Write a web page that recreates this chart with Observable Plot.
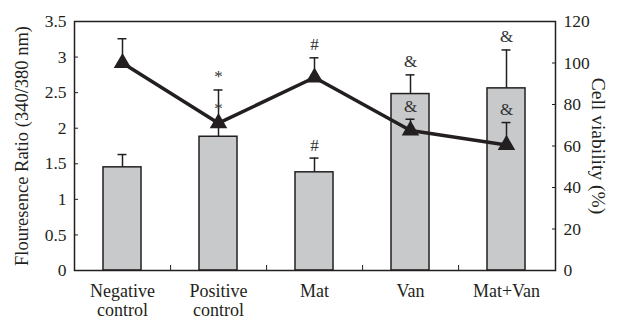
<!DOCTYPE html>
<html><head><meta charset="utf-8">
<script src="https://cdn.jsdelivr.net/npm/d3@7"></script>
<script src="https://cdn.jsdelivr.net/npm/@observablehq/plot@0.6"></script>
<style>body{margin:0;background:#fff}</style>
</head><body><div id="chart"></div>
<script>
const categories = ["Negative\ncontrol", "Positive\ncontrol", "Mat", "Van", "Mat+Van"];
const ratio = [1.45, 1.88, 1.38, 2.48, 2.56];
const ratioErr = [0.18, 0.22, 0.20, 0.27, 0.54];
const viability = [100, 71, 93, 67.5, 60.5];
const viabilityErr = [11.7, 16, 9.5, 5.4, 10.8];
const ratioMarks = ["", "*", "#", "&", "&"];
const viabilityMarks = ["", "*", "#", "&", "&"];
const leftTicks = [0, 0.5, 1, 1.5, 2, 2.5, 3, 3.5];
const rightTicks = [0, 20, 40, 60, 80, 100, 120];
const leftLabel = "Flouresence Ratio (340/380 nm)";
const rightLabel = "Cell viability (%)";

const k = 3.5 / 120;
const data = categories.map((c, i) => ({
  cat: c,
  ratio: ratio[i],
  ratioTop: ratio[i] + ratioErr[i],
  v: viability[i] * k,
  vTop: (viability[i] + viabilityErr[i]) * k,
  rm: ratioMarks[i],
  vm: viabilityMarks[i]
}));

const ink = "#231f20";
const font = "'Liberation Serif', 'Times New Roman', serif";
const chart = Plot.plot({
  width: 619,
  height: 320,
  marginLeft: 74,
  marginRight: 64,
  marginTop: 21,
  marginBottom: 50,
  style: {fontFamily: font, fontSize: "17px", color: ink, background: "#fff"},
  x: {domain: categories, paddingInner: 0.6, paddingOuter: 0.3, axis: null},
  y: {domain: [0, 3.5], axis: null},
  marks: [
    Plot.barY(data, {x: "cat", y: "ratio", fill: "#c8c9cb", stroke: ink, strokeWidth: 1.5}),
    Plot.ruleX(data, {x: "cat", y1: "ratio", y2: "ratioTop", stroke: ink, strokeWidth: 1.5}),
    Plot.tickY(data, {x: "cat", y: "ratioTop", stroke: ink, strokeWidth: 1.5, insetLeft: 14.5, insetRight: 14.5}),
    Plot.ruleX(data, {x: "cat", y1: "v", y2: "vTop", stroke: ink, strokeWidth: 1.5}),
    Plot.tickY(data, {x: "cat", y: "vTop", stroke: ink, strokeWidth: 1.5, insetLeft: 14.5, insetRight: 14.5}),
    Plot.line(data, {x: "cat", y: "v", stroke: ink, strokeWidth: 3.5}),
    Plot.dot(data, {x: "cat", y: "v", symbol: "triangle", fill: ink, r: 6.5}),
    Plot.text(data, {x: "cat", y: "ratioTop", text: "rm", dy: -13, fill: "#333", fontSize: 17, fontFamily: font}),
    Plot.text(data, {x: "cat", y: "vTop", text: "vm", dy: -13, fill: "#333", fontSize: 17, fontFamily: font}),
    Plot.frame({stroke: ink, strokeWidth: 1.5}),
    Plot.axisY(leftTicks, {anchor: "left", tickSize: -4, tickPadding: 12, label: null, tickFormat: d => String(d), stroke: ink, fill: ink, fontFamily: font, fontSize: 17.5}),
    Plot.axisY(rightTicks.map(t => t * k), {anchor: "right", tickSize: -4, tickPadding: 12, label: null, tickFormat: d => String(Math.round(d / k)), stroke: ink, fill: ink, fontFamily: font, fontSize: 17.5}),
    Plot.axisX(categories, {anchor: "bottom", tickSize: 0, tickPadding: 12, label: null, lineHeight: 1.1, fill: ink, fontFamily: font, fontSize: 18}),
    Plot.axisX(categories.slice(0, -1), {anchor: "bottom", tickSize: -5, text: null, label: null, dx: 48.1, stroke: ink}),
    Plot.text([leftLabel], {frameAnchor: "left", dx: -52, rotate: -90, textAnchor: "middle", fill: ink, fontSize: 18.5, fontFamily: font}),
    Plot.text([rightLabel], {frameAnchor: "right", dx: 43, rotate: 90, textAnchor: "middle", fill: ink, fontSize: 19.5, fontFamily: font})
  ]
});
document.getElementById("chart").appendChild(chart);
</script>
</body></html>
